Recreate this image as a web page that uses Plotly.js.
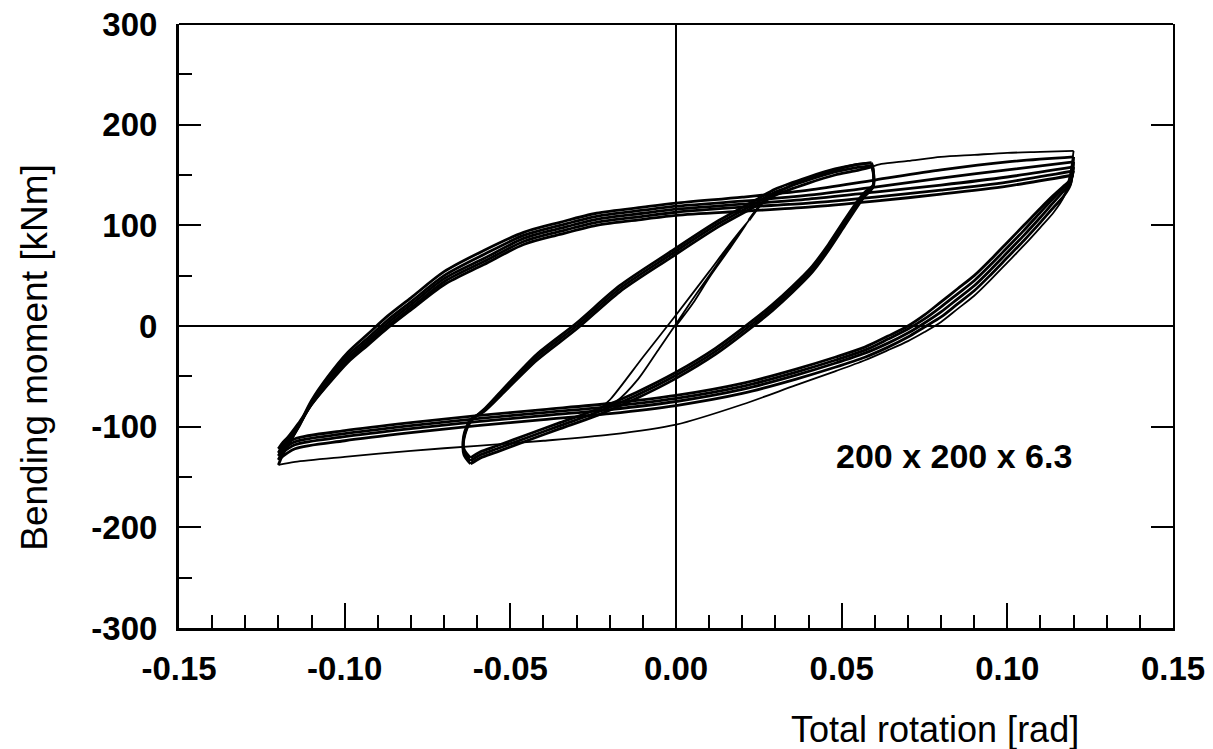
<!DOCTYPE html>
<html>
<head>
<meta charset="utf-8">
<script src="https://cdn.plot.ly/plotly-3.0.1.min.js"></script>
<style>html,body{margin:0;padding:0;background:#fff;}#chart{width:1213px;height:749px;}</style>
</head>
<body>
<div id="chart"></div>
<script>
// ---- Tick labels ----
const xTickVals = [-0.15, -0.10, -0.05, 0.00, 0.05, 0.10, 0.15];
const xTickText = ["-0.15", "-0.10", "-0.05", "0.00", "0.05", "0.10", "0.15"];
const xMinorVals = [-0.14,-0.13,-0.12,-0.11,-0.09,-0.08,-0.07,-0.06,-0.04,-0.03,-0.02,-0.01,0.01,0.02,0.03,0.04,0.06,0.07,0.08,0.09,0.11,0.12,0.13,0.14];
const yTickVals = [-300, -200, -100, 0, 100, 200, 300];
const yTickText = ["-300", "-200", "-100", "0", "100", "200", "300"];
const yMinorVals = [-250, -150, -50, 50, 150, 250];
const yRightTickVals = [-200, -100, 100, 200];

// ---- Small (elastic) cycles ----
const smallX = [0.000, 0.005, 0.010, 0.016, 0.022, 0.015, 0.010, 0.000, -0.010, -0.0196, -0.024, -0.018, -0.0115, -0.005, 0.000, 0.0045, 0.010, 0.016, 0.022];
const smallY = [0, 22, 48, 76, 105, 76, 54, 11, -31, -72, -86, -75, -53, -22, 2, 24, 50, 78, 105];

// ---- First loading to the medium amplitude ----
const medLoadX = [0.022, 0.026, 0.032, 0.040, 0.048, 0.054, 0.059];
const medLoadY = [105, 122, 135, 147, 155, 160, 162];

// ---- Medium cycles (about +/-0.06 rad) ----
const medDnAX = [0.059, 0.0595, 0.0595, 0.057, 0.055, 0.051, 0.046, 0.041, 0.035, 0.029, 0.023, 0.012, 0.000, -0.012, -0.024, -0.035, -0.045, -0.054, -0.059, -0.062];
const medDnAY = [162, 156, 138, 129, 120, 100, 75, 53, 33, 15, -1, -28, -52, -72, -89, -102, -114, -125, -131, -137];
const medUpAX = [-0.062, -0.064, -0.064, -0.062, -0.058, -0.052, -0.042, -0.030, -0.017, -0.002, 0.013, 0.024, 0.030, 0.040, 0.048, 0.054, 0.059];
const medUpAY = [-137, -128, -112, -95, -83, -62, -28, 3, 40, 73, 105, 125, 136, 148, 156, 160, 162];
const medDnBX = [0.059, 0.0595, 0.0595, 0.057, 0.055, 0.051, 0.046, 0.041, 0.035, 0.029, 0.023, 0.012, 0.000, -0.012, -0.024, -0.035, -0.045, -0.054, -0.059, -0.062];
const medDnBY = [162, 155, 139, 131, 122, 103, 78, 56, 36, 18, 2, -25, -49, -69, -86, -99, -111, -122, -128, -134];
const medUpBX = [-0.062, -0.064, -0.064, -0.062, -0.058, -0.052, -0.042, -0.030, -0.017, -0.002, 0.013, 0.024, 0.030, 0.040, 0.048, 0.054, 0.059];
const medUpBY = [-134, -125, -110, -94, -84, -64, -31, 0, 37, 70, 102, 122, 133, 145, 153, 157, 159];
const medDnCX = [0.059, 0.0595, 0.0595, 0.057, 0.055, 0.051, 0.046, 0.041, 0.035, 0.029, 0.023, 0.012, 0.000, -0.012, -0.024, -0.035, -0.045, -0.054, -0.059, -0.062];
const medDnCY = [159, 153, 140, 133, 125, 106, 81, 59, 39, 21, 5, -22, -46, -66, -83, -96, -108, -119, -125, -131];
const medUpCX = [-0.062, -0.064, -0.064, -0.062, -0.058, -0.052, -0.042, -0.030, -0.017, -0.002, 0.013, 0.024, 0.030, 0.040, 0.048, 0.054, 0.059];
const medUpCY = [-131, -122, -108, -93, -85, -66, -34, -3, 34, 67, 99, 119, 130, 142, 150, 154, 158];

// ---- First loading to the large amplitude ----
const bigLoadX = [0.059, 0.062, 0.070, 0.080, 0.090, 0.100, 0.110, 0.120];
const bigLoadY = [158, 161, 164, 168, 170, 172, 173, 174];

// ---- Large cycles (about +/-0.12 rad) ----
const bigDnX = [0.120, 0.119, 0.117, 0.114, 0.110, 0.105, 0.100, 0.095, 0.090, 0.085, 0.080, 0.075, 0.070, 0.064, 0.057, 0.048, 0.036, 0.020, 0.000, -0.020, -0.040, -0.060, -0.080, -0.100, -0.115, -0.120];
const bigUpX = [-0.120, -0.119, -0.117, -0.114, -0.110, -0.105, -0.099, -0.093, -0.087, -0.080, -0.070, -0.058, -0.046, -0.035, -0.024, -0.010, 0.000, 0.020, 0.040, 0.060, 0.080, 0.100, 0.120];
const bigDn1Y = [174, 152, 128, 113, 98, 80, 63, 46, 30, 17, 4, -6, -15, -24, -34, -45, -59, -78, -98, -108, -114, -119, -124, -130, -135, -138];
const bigUp1Y = [-138, -130, -118, -100, -74, -50, -26, -8, 10, 28, 54, 75, 93, 103, 112, 118, 122, 128, 135, 145, 155, 163, 168];
const bigDn2Y = [168, 140, 129, 118, 103, 85, 68, 51, 35, 22, 9, -1, -11, -21, -31, -41, -53, -67, -79, -87, -93, -99, -106, -114, -122, -133];
const bigUp2Y = [-133, -126, -117, -101, -76, -53, -29, -12, 6, 24, 50, 71, 90, 100, 109, 115, 119, 124, 130, 138, 147, 155, 163];
const bigDn3Y = [163, 141, 134, 123, 108, 90, 73, 56, 40, 27, 14, 3, -7, -17, -27, -37, -49, -63, -75, -83, -89, -95, -102, -110, -118, -129];
const bigUp3Y = [-129, -123, -115, -100, -77, -55, -32, -15, 3, 21, 47, 67, 87, 97, 106, 112, 116, 121, 126, 133, 140, 148, 158];
const bigDn4Y = [158, 143, 137, 127, 113, 95, 78, 61, 45, 32, 19, 7, -3, -13, -24, -34, -46, -60, -72, -80, -86, -92, -99, -107, -115, -126];
const bigUp4Y = [-126, -120, -113, -99, -78, -57, -34, -17, 0, 18, 44, 64, 84, 94, 103, 109, 113, 118, 122, 128, 135, 143, 154];
const bigDn5Y = [154, 145, 139, 130, 117, 100, 83, 66, 50, 37, 24, 11, 0, -10, -21, -31, -43, -57, -69, -77, -83, -89, -96, -104, -112, -122];
const bigUp5Y = [-122, -117, -110, -97, -78, -58, -36, -19, -2, 16, 41, 61, 81, 91, 100, 106, 110, 114, 118, 124, 131, 139, 150];

const labelText = "200 x 200 x 6.3";
const labelPos = [0.0839, -129];

// ---- Build traces ----
function seg(x, y, yaxis, width) {
  return {x: x, y: y, type: 'scatter', mode: 'lines',
          line: {color: '#000', width: width || 2.8, shape: 'spline', smoothing: 0.8},
          hoverinfo: 'skip', showlegend: false, yaxis: yaxis || 'y'};
}
const traces = [
  seg(smallX, smallY, 'y2', 1.8),
  seg(medLoadX, medLoadY),
  seg(medDnAX, medDnAY), seg(medUpAX, medUpAY),
  seg(medDnBX, medDnBY), seg(medUpBX, medUpBY),
  seg(medDnCX, medDnCY), seg(medUpCX, medUpCY),
  seg(bigLoadX, bigLoadY, 'y', 1.8),
  seg(bigDnX, bigDn1Y, 'y', 1.8), seg(bigUpX, bigUp1Y),
  seg(bigDnX, bigDn2Y), seg(bigUpX, bigUp2Y),
  seg(bigDnX, bigDn3Y), seg(bigUpX, bigUp3Y),
  seg(bigDnX, bigDn4Y), seg(bigUpX, bigUp4Y),
  seg(bigDnX, bigDn5Y), seg(bigUpX, bigUp5Y)
];

const FONT = 'Liberation Sans, Arial, Helvetica, sans-serif';
const tickFont = {family: FONT, size: 33, color: '#000', weight: 'bold'};

const layout = {
  width: 1213, height: 749,
  margin: {l: 179, r: 40, t: 24, b: 121},
  paper_bgcolor: '#fff', plot_bgcolor: '#fff',
  showlegend: false,
  xaxis: {
    range: [-0.15, 0.15], tickmode: 'array', tickvals: xTickVals, ticktext: xTickText,
    ticks: 'inside', ticklen: 25, tickwidth: 2, tickcolor: '#000',
    minor: {tickmode: 'array', tickvals: xMinorVals, ticks: 'inside', ticklen: 13, tickwidth: 2, tickcolor: '#000', showgrid: false},
    showgrid: false, zeroline: true, zerolinecolor: '#000', zerolinewidth: 2,
    showline: true, linecolor: '#000', linewidth: 3,
    tickfont: tickFont, ticklabelstandoff: 9, fixedrange: true
  },
  yaxis: {
    range: [-300, 300], tickmode: 'array', tickvals: yTickVals, ticktext: yTickText,
    ticks: 'inside', ticklen: 22, tickwidth: 2, tickcolor: '#000',
    minor: {tickmode: 'array', tickvals: yMinorVals, ticks: 'inside', ticklen: 13, tickwidth: 2, tickcolor: '#000', showgrid: false},
    showgrid: false, zeroline: true, zerolinecolor: '#000', zerolinewidth: 2,
    showline: true, linecolor: '#000', linewidth: 3,
    tickfont: tickFont, ticklabelstandoff: 12, fixedrange: true
  },
  yaxis2: {
    range: [-300, 300], overlaying: 'y', side: 'right',
    tickmode: 'array', tickvals: yRightTickVals, showticklabels: false,
    ticks: 'inside', ticklen: 22, tickwidth: 2, tickcolor: '#000',
    showgrid: false, zeroline: false, showline: true, linecolor: '#000', linewidth: 2,
    fixedrange: true
  },
  shapes: [
    {type: 'line', xref: 'paper', yref: 'paper', x0: 0, x1: 1, y0: 1, y1: 1, line: {color: '#000', width: 2}}
  ],
  annotations: [
    {text: 'Bending moment [kNm]', xref: 'paper', yref: 'paper', x: -0.1449, y: 0.449,
     textangle: -90, showarrow: false, xanchor: 'center', yanchor: 'middle',
     font: {family: FONT, size: 37, color: '#000'}},
    {text: 'Total rotation [rad]', xref: 'paper', yref: 'paper', x: 0.7606, y: -0.168,
     showarrow: false, xanchor: 'center', yanchor: 'middle',
     font: {family: FONT, size: 36, color: '#000'}},
    {text: labelText, x: labelPos[0], y: labelPos[1], xref: 'x', yref: 'y',
     showarrow: false, xanchor: 'center', yanchor: 'middle',
     font: {family: FONT, size: 34, color: '#000', weight: 'bold'}}
  ]
};

Plotly.newPlot('chart', traces, layout, {staticPlot: true, displayModeBar: false});
</script>
</body>
</html>
